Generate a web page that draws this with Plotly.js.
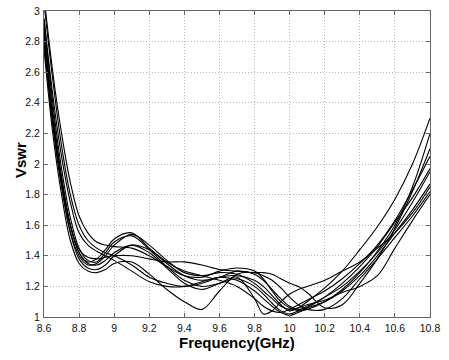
<!DOCTYPE html>
<html>
<head>
<meta charset="utf-8">
<script src="https://cdn.plot.ly/plotly-3.0.1.min.js"></script>
<style>
html,body{margin:0;padding:0;background:#fff;}
#chart{width:449px;height:360px;}
</style>
</head>
<body>
<div id="chart"></div>
<script>
// Frequency grid (GHz)
const freq = [8.6, 8.65, 8.7, 8.75, 8.8, 8.85, 8.9, 8.95, 9.0, 9.1, 9.2, 9.3, 9.4, 9.5, 9.6, 9.7, 9.8, 9.85, 9.9, 9.95, 10.0, 10.05, 10.1, 10.2, 10.3, 10.4, 10.5, 10.6, 10.7, 10.8];

// VSWR curves
const vswr1  = [2.90, 2.30, 1.90, 1.60, 1.42, 1.36, 1.38, 1.44, 1.51, 1.55, 1.45, 1.36, 1.30, 1.27, 1.24, 1.20, 1.12, 1.07, 1.04, 1.03, 1.05, 1.08, 1.11, 1.17, 1.25, 1.35, 1.47, 1.63, 1.83, 2.05];
const vswr2  = [2.95, 2.40, 1.97, 1.65, 1.45, 1.37, 1.36, 1.42, 1.49, 1.53, 1.44, 1.33, 1.24, 1.20, 1.22, 1.25, 1.20, 1.15, 1.09, 1.04, 1.02, 1.04, 1.07, 1.13, 1.20, 1.30, 1.42, 1.57, 1.75, 1.95];
const vswr3  = [2.80, 2.25, 1.85, 1.55, 1.38, 1.32, 1.31, 1.34, 1.40, 1.47, 1.44, 1.35, 1.27, 1.24, 1.26, 1.30, 1.28, 1.24, 1.18, 1.12, 1.07, 1.05, 1.06, 1.10, 1.17, 1.27, 1.40, 1.55, 1.70, 1.87];
const vswr4  = [2.75, 2.20, 1.80, 1.50, 1.35, 1.30, 1.29, 1.31, 1.35, 1.36, 1.28, 1.18, 1.10, 1.05, 1.17, 1.28, 1.29, 1.27, 1.24, 1.19, 1.13, 1.08, 1.05, 1.05, 1.12, 1.25, 1.38, 1.52, 1.66, 1.82];
const vswr5  = [2.85, 2.30, 1.90, 1.60, 1.44, 1.39, 1.38, 1.39, 1.40, 1.40, 1.38, 1.36, 1.36, 1.34, 1.31, 1.30, 1.29, 1.29, 1.28, 1.25, 1.22, 1.20, 1.16, 1.06, 1.08, 1.22, 1.38, 1.58, 1.82, 2.10];
const vswr6  = [3.05, 2.55, 2.12, 1.80, 1.60, 1.50, 1.45, 1.42, 1.40, 1.34, 1.26, 1.22, 1.20, 1.22, 1.26, 1.27, 1.24, 1.20, 1.14, 1.08, 1.04, 1.06, 1.10, 1.19, 1.30, 1.44, 1.59, 1.77, 2.00, 2.30];
const vswr7  = [3.10, 2.60, 2.20, 1.88, 1.66, 1.55, 1.49, 1.47, 1.46, 1.45, 1.40, 1.33, 1.27, 1.26, 1.30, 1.32, 1.30, 1.25, 1.17, 1.10, 1.06, 1.04, 1.05, 1.10, 1.18, 1.29, 1.43, 1.60, 1.85, 2.20];
const vswr8  = [2.90, 2.35, 1.92, 1.60, 1.42, 1.35, 1.34, 1.37, 1.42, 1.47, 1.42, 1.32, 1.22, 1.18, 1.22, 1.26, 1.12, 1.02, 1.04, 1.10, 1.15, 1.18, 1.20, 1.24, 1.30, 1.36, 1.45, 1.55, 1.68, 1.85];
const vswr9  = [2.80, 2.28, 1.87, 1.56, 1.40, 1.34, 1.35, 1.40, 1.47, 1.54, 1.47, 1.37, 1.29, 1.27, 1.29, 1.28, 1.22, 1.17, 1.12, 1.07, 1.05, 1.06, 1.08, 1.11, 1.16, 1.20, 1.27, 1.45, 1.63, 1.80];
const vswr10 = [2.95, 2.45, 2.05, 1.75, 1.55, 1.47, 1.43, 1.40, 1.37, 1.30, 1.23, 1.20, 1.20, 1.23, 1.26, 1.24, 1.17, 1.12, 1.07, 1.03, 1.01, 1.03, 1.06, 1.13, 1.22, 1.33, 1.46, 1.62, 1.78, 1.97];

const xTickVals = [8.6, 8.8, 9.0, 9.2, 9.4, 9.6, 9.8, 10.0, 10.2, 10.4, 10.6, 10.8];
const xTickText = ["8.6", "8.8", "9", "9.2", "9.4", "9.6", "9.8", "10", "10.2", "10.4", "10.6", "10.8"];
const yTickVals = [1, 1.2, 1.4, 1.6, 1.8, 2, 2.2, 2.4, 2.6, 2.8, 3];
const yTickText = ["1", "1.2", "1.4", "1.6", "1.8", "2", "2.2", "2.4", "2.6", "2.8", "3"];
const xTitle = "Frequency(GHz)";
const yTitle = "Vswr";

const series = [vswr1, vswr2, vswr3, vswr4, vswr5, vswr6, vswr7, vswr8, vswr9, vswr10];

const traces = series.map(function (ys) {
  return {
    x: freq, y: ys, type: 'scatter', mode: 'lines',
    line: {color: '#000', width: 1.1, shape: 'spline', smoothing: 1},
    hoverinfo: 'skip', showlegend: false
  };
});

const FONT = 'Arial, Liberation Sans, sans-serif';

const axisCommon = {
  showline: true, linecolor: '#666', linewidth: 1, mirror: 'all',
  ticks: 'inside', ticklen: 4, tickcolor: '#666', tickwidth: 1,
  showgrid: true, gridcolor: '#b8b8b8', griddash: '1px,2px', gridwidth: 1,
  zeroline: false,
  tickfont: {family: FONT, size: 10.5, color: '#111'}
};

const layout = {
  width: 449, height: 360,
  margin: {l: 44, r: 19, t: 11, b: 43},
  paper_bgcolor: '#fff', plot_bgcolor: '#fff',
  xaxis: Object.assign({}, axisCommon, {
    range: [8.6, 10.8], tickmode: 'array', tickvals: xTickVals, ticktext: xTickText,
    ticklabelstandoff: 1
  }),
  yaxis: Object.assign({}, axisCommon, {
    range: [1, 3], tickmode: 'array', tickvals: yTickVals, ticktext: yTickText,
    ticklabelstandoff: 1
  }),
  annotations: [
    {text: '<b>' + xTitle + '</b>', xref: 'paper', yref: 'paper', x: 0.5, y: -0.083,
     xanchor: 'center', yanchor: 'middle', showarrow: false,
     font: {family: FONT, size: 15, color: '#000'}},
    {text: '<b>' + yTitle + '</b>', xref: 'paper', yref: 'paper', x: -0.062, y: 0.513,
     xanchor: 'center', yanchor: 'middle', textangle: -90, showarrow: false,
     font: {family: FONT, size: 15, color: '#000'}}
  ]
};

Plotly.newPlot('chart', traces, layout, {staticPlot: true, displayModeBar: false});
</script>
</body>
</html>
